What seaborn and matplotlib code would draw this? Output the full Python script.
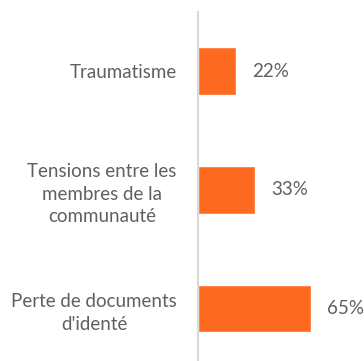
import matplotlib
matplotlib.use("Agg")
import matplotlib.pyplot as plt
import seaborn as sns
import pandas as pd

categories = ["Traumatisme", "Tensions entre les\nmembres de la\ncommunauté", "Perte de documents\nd'identé"]
values = [22, 33, 65]
value_labels = ["22%", "33%", "65%"]

sns.set_theme(style="white")
plt.rcParams["font.family"] = ["Lato", "DejaVu Sans"]

W, H = 364, 361
fig = plt.figure(figsize=(W / 100, H / 100), dpi=100)
x0 = 197.7
ax = fig.add_axes([x0 / W, -7 / H, 1 - x0 / W, (368 - 11.7) / H])

df = pd.DataFrame({"cat": categories, "val": values})
sns.barplot(data=df, x="val", y="cat", color="#FF6A21", width=0.4, ax=ax, saturation=1)

ax.set_xlim(0, (W - x0) / 1.74)
ax.set_ylim(2.5, -0.5)
ax.set_xlabel("")
ax.set_ylabel("")
ax.set_xticks([])
for s in ["top", "right", "bottom"]:
    ax.spines[s].set_visible(False)
ax.spines["left"].set_color("#D9D9D9")
ax.spines["left"].set_linewidth(1.5)
ax.tick_params(axis="y", length=0, pad=15, labelsize=13.5, labelcolor="#606060")
for t in ax.get_yticklabels():
    t.set_multialignment("center")
    t.set_linespacing(1.4)

for i, (v, lab) in enumerate(zip(values, value_labels)):
    ax.annotate(lab, (v, i), xytext=(16, 0), textcoords="offset pixels",
                va="center", ha="left", fontsize=13.5, color="#606060")

fig.savefig("out.png", dpi=100)
